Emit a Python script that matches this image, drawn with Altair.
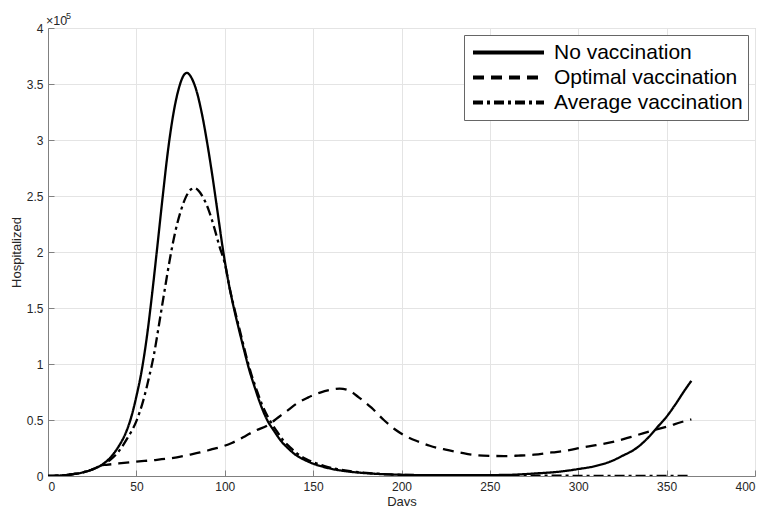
import altair as alt
import pandas as pd

series_names = ["No vaccination", "Optimal vaccination", "Average vaccination"]

# Values in units of 10^5 hospitalized
no_vac_days = [0, 5, 10, 15, 20, 25, 30, 35, 40, 44, 47, 50, 53, 56, 59, 62, 65, 68, 71, 74, 76.5, 78.5,
               81, 84, 87, 90, 93, 96, 99, 102, 105, 108, 111, 114, 117, 120, 124, 128, 132, 136, 140,
               145, 150, 155, 160, 170, 180, 190, 200, 220, 240, 260, 275, 290, 300, 310, 318, 325, 333,
               340, 345, 350, 355, 360, 364]
no_vac_vals = [0.0, 0.003, 0.008, 0.018, 0.033, 0.058, 0.095, 0.16, 0.265, 0.385, 0.52, 0.71, 0.94, 1.25, 1.64,
               2.07, 2.51, 2.92, 3.24, 3.46, 3.57, 3.60,
               3.56, 3.44, 3.24, 2.98, 2.68, 2.35, 2.02, 1.74, 1.51, 1.31, 1.12, 0.94, 0.79, 0.65, 0.50,
               0.40, 0.31, 0.245, 0.19, 0.145, 0.11, 0.085, 0.065, 0.04, 0.025, 0.016, 0.011, 0.007, 0.007,
               0.010, 0.022, 0.040, 0.062, 0.09, 0.128, 0.18, 0.25, 0.35, 0.44, 0.53, 0.64, 0.76, 0.85]

opt_days = [0, 5, 10, 15, 20, 25, 30, 33, 40, 50, 60, 70, 80, 86, 92, 99, 104, 108, 112, 118, 124, 130,
            136, 141, 147, 154, 160, 165, 170, 176, 183, 190, 196, 202, 209, 216, 225, 233, 240, 250, 258,
            266, 275, 285, 295, 301, 310, 321, 330, 343, 352, 358, 364]
opt_vals = [0.0, 0.003, 0.008, 0.018, 0.033, 0.058, 0.095, 0.10, 0.112, 0.128, 0.142, 0.16, 0.19, 0.21,
            0.235, 0.265, 0.295, 0.325, 0.36, 0.41, 0.45, 0.52, 0.59, 0.65, 0.70, 0.745, 0.77, 0.78, 0.765,
            0.70, 0.61, 0.50, 0.42, 0.36, 0.31, 0.27, 0.235, 0.21, 0.19, 0.18, 0.178, 0.182, 0.19, 0.21,
            0.23, 0.25, 0.275, 0.31, 0.35, 0.41, 0.45, 0.48, 0.505]

avg_days = [0, 5, 10, 15, 20, 25, 30, 33, 36, 40, 45, 50, 54, 57, 60, 63, 66, 69, 72, 75, 78, 81, 83, 85,
            88, 91, 94, 97, 100, 103, 106, 109, 112, 115, 118, 121, 125, 129, 133, 137, 141, 146, 151, 156,
            161, 170, 180, 190, 200, 220, 250, 300, 364]
avg_vals = [0.0, 0.003, 0.008, 0.018, 0.033, 0.058, 0.095, 0.12, 0.155, 0.22, 0.34, 0.49, 0.68, 0.87, 1.09,
            1.37, 1.66, 1.94, 2.18, 2.36, 2.49, 2.56, 2.57, 2.55, 2.48, 2.37, 2.22, 2.05, 1.90, 1.66, 1.46,
            1.27, 1.08, 0.91, 0.77, 0.64, 0.51, 0.41, 0.32, 0.255, 0.20, 0.152, 0.117, 0.09, 0.07, 0.045,
            0.028, 0.017, 0.01, 0.005, 0.003, 0.002, 0.002]

x_ticks = [0, 50, 100, 150, 200, 250, 300, 350, 400]
y_ticks = [0, 0.5, 1, 1.5, 2, 2.5, 3, 3.5, 4]
x_title = "Days"
y_title = "Hospitalized"
exp_base = ["×10"]
exp_power = ["5"]

rows = []
for name, days, vals in [(series_names[0], no_vac_days, no_vac_vals),
                         (series_names[1], opt_days, opt_vals),
                         (series_names[2], avg_days, avg_vals)]:
    for d, v in zip(days, vals):
        rows.append({"series": name, "day": d, "value": v})
df = pd.DataFrame(rows)

W, H = 707, 448
FONT = "Liberation Sans"
LABEL_COLOR = "#262626"
AXIS_COLOR = "#808080"

dash_range = [[1, 0], [11, 7], [10, 4, 3, 4]]

x_scale = alt.Scale(domain=[0, 400], nice=False, zero=False)
y_scale = alt.Scale(domain=[0, 4], nice=False)

lines = alt.Chart(df).mark_line(strokeWidth=2.3, interpolate="monotone", stroke="black", clip=True).encode(
    x=alt.X("day:Q", scale=x_scale,
            axis=alt.Axis(orient="bottom", values=x_ticks, title=x_title, grid=True, ticks=False,
                          tickSize=0, labelPadding=5, domainColor=AXIS_COLOR, gridColor="#e4e4e4",
                          labelFont=FONT, labelFontSize=12, labelColor=LABEL_COLOR,
                          titleFont=FONT, titleFontSize=13, titleFontWeight="normal",
                          titleColor=LABEL_COLOR, titlePadding=3, format="d")),
    y=alt.Y("value:Q", scale=y_scale,
            axis=alt.Axis(orient="left", values=y_ticks, title=y_title, grid=True, ticks=False,
                          tickSize=0, labelPadding=5, domainColor=AXIS_COLOR, gridColor="#e4e4e4",
                          labelFont=FONT, labelFontSize=12, labelColor=LABEL_COLOR,
                          titleFont=FONT, titleFontSize=13, titleFontWeight="normal",
                          titleColor=LABEL_COLOR, titlePadding=3, format="~g")),
    strokeDash=alt.StrokeDash(
        "series:N",
        scale=alt.Scale(domain=series_names, range=dash_range),
        sort=series_names,
        legend=alt.Legend(
            title=None, orient="top-right", offset=7, padding=5,
            fillColor="white", strokeColor="#666666",
            labelFont=FONT, labelFontSize=21, labelColor="black", labelLimit=400,
            labelOffset=8, symbolType="stroke", symbolSize=5041, symbolStrokeWidth=4,
            symbolStrokeColor="black", symbolOffset=2, clipHeight=25, rowPadding=0,
        ),
    ),
)

ticks = alt.Chart(df).mark_line(strokeOpacity=0).encode(
    x=alt.X("day:Q", scale=x_scale,
            axis=alt.Axis(orient="top", offset=-H, values=x_ticks, labels=False, domain=False,
                          grid=False, ticks=True, tickSize=6, tickColor=AXIS_COLOR, title=None)),
    y=alt.Y("value:Q", scale=y_scale,
            axis=alt.Axis(orient="right", offset=-W, values=y_ticks, labels=False, domain=False,
                          grid=False, ticks=True, tickSize=6, tickColor=AXIS_COLOR, title=None)),
)

base_txt = alt.Chart(pd.DataFrame({"t": exp_base})).mark_text(
    align="left", baseline="alphabetic", font=FONT, fontSize=12.5, color=LABEL_COLOR
).encode(text="t:N", x=alt.value(-2), y=alt.value(-3))

pow_txt = alt.Chart(pd.DataFrame({"t": exp_power})).mark_text(
    align="left", baseline="alphabetic", font=FONT, fontSize=9, color=LABEL_COLOR
).encode(text="t:N", x=alt.value(18), y=alt.value(-9.5))

chart = alt.layer(lines, ticks, base_txt, pow_txt).properties(
    width=W, height=H,
    autosize=alt.AutoSizeParams(type="none"),
    padding={"left": 48, "top": 28, "right": 6, "bottom": 30},
    background="white",
).configure_view(stroke="#c4c4c4")

chart.save("out.html", embed_options={"renderer": "svg", "actions": False})
